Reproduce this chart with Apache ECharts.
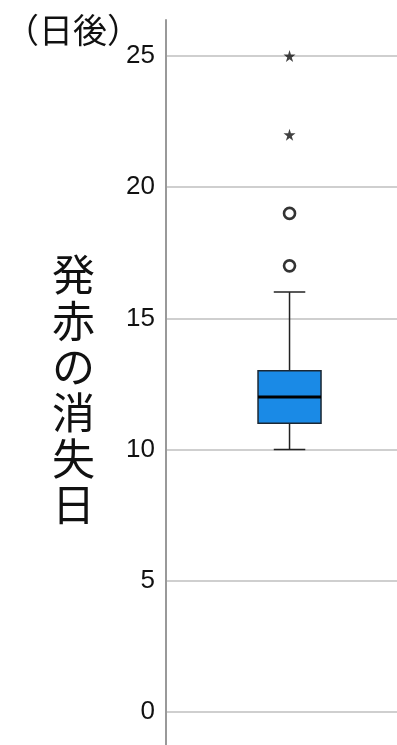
<!DOCTYPE html>
<html>
<head>
<meta charset="utf-8">
<script src="https://cdn.jsdelivr.net/npm/echarts@6/dist/echarts.min.js"></script>
<style>
  html, body { margin: 0; padding: 0; background: #fff; }
  #main { width: 397px; height: 745px; }
</style>
</head>
<body>
<div id="main"></div>
<script>
// data
const categories = ['発赤の消失日'];
// [min, Q1, median, Q3, max]
const boxStats = [[10, 11, 12, 13, 16]];
const outliers = [17, 19];   // circles
const extremes = [22, 25];   // stars
const yTicks = [0, 5, 10, 15, 20, 25];

const starPath = 'path://M50,0 L61,35 L98,35 L68,57 L79,91 L50,70 L21,91 L32,57 L2,35 L39,35 Z';

let chart = echarts.init(document.getElementById('main'), null, { renderer: 'canvas' });

let option = {
    backgroundColor: '#fff',
    animation: false,
    title: [
        {
            text: '（日後）',
            left: 0,
            top: 8,
            textStyle: { fontSize: 34, fontWeight: 'normal', color: '#111', fontFamily: 'Noto Sans CJK JP' }
        },
        {
            text: '発\n赤\nの\n消\n失\n日',
            left: 47,
            top: 247,
            textStyle: { fontSize: 43, lineHeight: 46, fontWeight: 'normal', color: '#111', fontFamily: 'Noto Sans CJK JP' }
        }
    ],
    grid: { left: 166, right: 0, top: 20, bottom: 0 },
    // hidden value axis so the single box sits where the reference puts it
    xAxis: {
        type: 'value',
        min: -0.5,
        max: 0.435,
        show: false,
        splitLine: { show: false }
    },
    yAxis: {
        type: 'value',
        min: -1.26,
        max: 26.37,
        axisLine: { show: true, onZero: false, lineStyle: { color: '#999', width: 2 } },
        axisTick: { show: false, customValues: yTicks },
        axisLabel: {
            customValues: yTicks,
            fontSize: 26,
            color: '#111',
            margin: 11,
            fontFamily: 'Liberation Sans'
        },
        splitLine: { show: true, lineStyle: { color: '#cfcfcf', width: 2 } }
    },
    series: [
        {
            type: 'custom',
            name: categories[0],
            data: boxStats.map((s, i) => [i].concat(s)),
            renderItem: function (params, api) {
                let idx = api.value(0);
                let bw = api.size([1, 0])[0] * 0.255;
                let half = bw / 2;
                let capHalf = bw / 4;
                let pMin = api.coord([idx, api.value(1)]);
                let pQ1 = api.coord([idx, api.value(2)]);
                let pMed = api.coord([idx, api.value(3)]);
                let pQ3 = api.coord([idx, api.value(4)]);
                let pMax = api.coord([idx, api.value(5)]);
                let cx = pMed[0];
                let lineStyle = { stroke: '#222', lineWidth: 1.5 };
                return {
                    type: 'group',
                    children: [
                        { type: 'line', shape: { x1: cx, y1: pMax[1], x2: cx, y2: pQ3[1] }, style: lineStyle },
                        { type: 'line', shape: { x1: cx, y1: pQ1[1], x2: cx, y2: pMin[1] }, style: lineStyle },
                        { type: 'line', shape: { x1: cx - capHalf, y1: pMax[1], x2: cx + capHalf, y2: pMax[1] }, style: lineStyle },
                        { type: 'line', shape: { x1: cx - capHalf, y1: pMin[1], x2: cx + capHalf, y2: pMin[1] }, style: lineStyle },
                        {
                            type: 'rect',
                            shape: { x: cx - half, y: pQ3[1], width: bw, height: pQ1[1] - pQ3[1] },
                            style: { fill: '#1a8ae6', stroke: '#1b2733', lineWidth: 1.5 }
                        },
                        { type: 'line', shape: { x1: cx - half, y1: pMed[1], x2: cx + half, y2: pMed[1] }, style: { stroke: '#000', lineWidth: 3 } }
                    ]
                };
            },
            z: 3
        },
        {
            type: 'scatter',
            data: outliers.map(v => [0, v]),
            symbol: 'circle',
            symbolSize: 11,
            itemStyle: { color: '#fff', borderColor: '#000', borderWidth: 2.6 },
            z: 4
        },
        {
            type: 'scatter',
            data: extremes.map(v => [0, v]),
            symbol: starPath,
            symbolSize: 12,
            itemStyle: { color: '#111' },
            z: 4
        }
    ]
};

chart.setOption(option);
</script>
</body>
</html>
